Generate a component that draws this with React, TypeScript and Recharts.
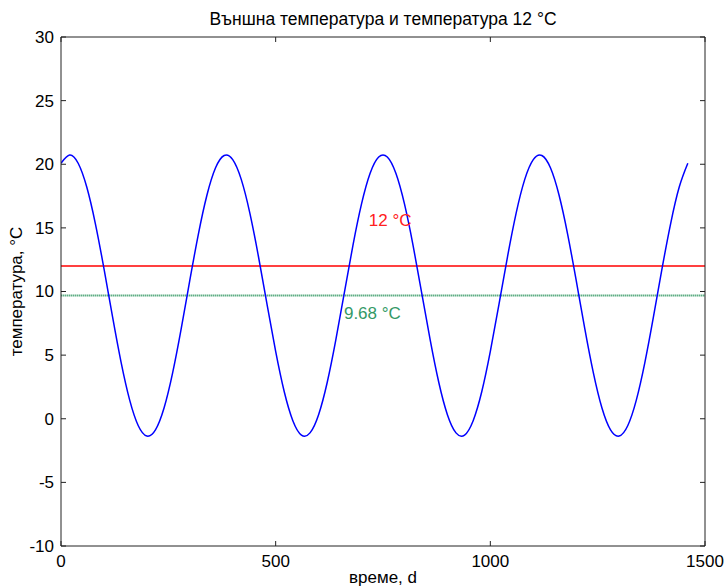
import React from "react";
import {
  LineChart,
  Line,
  XAxis,
  YAxis,
  ReferenceLine,
  ReferenceDot,
  Label,
} from "recharts";

// Day of the simulation, sampled every 20 days
const days = [
  0, 20, 40, 60, 80, 100, 120, 140, 160, 180, 200, 220, 240, 260, 280, 300,
  320, 340, 360, 380, 400, 420, 440, 460, 480, 500, 520, 540, 560, 580, 600,
  620, 640, 660, 680, 700, 720, 740, 760, 780, 800, 820, 840, 860, 880, 900,
  920, 940, 960, 980, 1000, 1020, 1040, 1060, 1080, 1100, 1120, 1140, 1160,
  1180, 1200, 1220, 1240, 1260, 1280, 1300, 1320, 1340, 1360, 1380, 1400,
  1420, 1440, 1460,
];

// Outside temperature, °C
const outsideTemp = [
  20.08, 20.73, 20.08, 18.21, 15.34, 11.81, 8.02, 4.43, 1.46, -0.55, -1.36,
  -0.87, 0.85, 3.61, 7.09, 10.87, 14.51, 17.58, 19.72, 20.69, 20.36, 18.79,
  16.14, 12.73, 8.97, 5.29, 2.12, -0.15, -1.28, -1.11, 0.32, 2.85, 6.18, 9.92,
  13.63, 16.88, 19.29, 20.57, 20.57, 19.29, 16.88, 13.63, 9.92, 6.18, 2.85,
  0.32, -1.11, -1.28, -0.15, 2.12, 5.29, 8.97, 12.73, 16.14, 18.79, 20.36,
  20.69, 19.72, 17.58, 14.51, 10.87, 7.09, 3.61, 0.85, -0.87, -1.36, -0.55,
  1.46, 4.43, 8.02, 11.81, 15.34, 18.21, 20.08,
];

const setPoint = 12;
const meanTemp = 9.68;

const xTicks = [0, 500, 1000, 1500];
const yTicks = [-10, -5, 0, 5, 10, 15, 20, 25, 30];

// where the two text notes sit, in data units
const setPointNote = { t: 717, temp: 15.6 };
const meanNote = { t: 659, temp: 8.3 };

const data = days.map((t, i) => ({ t, temp: outsideTemp[i] }));

const FONT = '"Liberation Sans", Arial, Helvetica, sans-serif';
const FS = 17;
const TICK_LEN = 5;
const AXIS = "#222";

const BottomTick = (props: any) => {
  const { x, y, payload } = props;
  return (
    <g>
      <line x1={x} y1={y} x2={x} y2={y - TICK_LEN} stroke={AXIS} />
      <text x={x} y={y + 9} dy="0.71em" textAnchor="middle" fontSize={FS} fill="#000">
        {payload.value}
      </text>
    </g>
  );
};

const TopTick = (props: any) => {
  const { x, y } = props;
  return <line x1={x} y1={y} x2={x} y2={y + TICK_LEN} stroke={AXIS} />;
};

const LeftTick = (props: any) => {
  const { x, y, payload } = props;
  return (
    <g>
      <line x1={x} y1={y} x2={x + TICK_LEN} y2={y} stroke={AXIS} />
      <text x={x - 7} y={y} dy="0.35em" textAnchor="end" fontSize={FS} fill="#000">
        {payload.value}
      </text>
    </g>
  );
};

const RightTick = (props: any) => {
  const { x, y } = props;
  return <line x1={x} y1={y} x2={x - TICK_LEN} y2={y} stroke={AXIS} />;
};

const noteLabel = (text: string, color: string) => (props: any) => {
  const { viewBox } = props;
  const cx = viewBox.x + viewBox.width / 2;
  const cy = viewBox.y + viewBox.height / 2;
  return (
    <text x={cx} y={cy} dy="0.35em" textAnchor="start" fontSize={FS} fill={color}>
      {text}
    </text>
  );
};

export default function App() {
  return (
    <div style={{ position: "absolute", left: 0, top: 0, width: 727, height: 588, background: "#fff" }}>
      <LineChart
        width={727}
        height={588}
        data={data}
        margin={{ top: 36, right: 21, bottom: 0, left: 0 }}
        style={{ fontFamily: FONT }}
      >
        <XAxis
          dataKey="t"
          type="number"
          domain={[0, 1500]}
          ticks={xTicks}
          allowDataOverflow
          height={42}
          tickSize={0}
          tickMargin={0}
          tickLine={false}
          axisLine={{ stroke: AXIS }}
          tick={<BottomTick />}
        >
          <Label
            content={(p: any) => (
              <text
                x={p.viewBox.x + p.viewBox.width / 2}
                y={p.viewBox.y + 37}
                textAnchor="middle"
                fontSize={FS}
                fill="#000"
              >
                време, d
              </text>
            )}
          />
        </XAxis>
        <XAxis
          xAxisId="top"
          orientation="top"
          dataKey="t"
          type="number"
          domain={[0, 1500]}
          ticks={xTicks}
          allowDataOverflow
          height={1}
          tickSize={0}
          tickMargin={0}
          tickLine={false}
          axisLine={{ stroke: AXIS }}
          tick={<TopTick />}
        >
          <Label
            content={(p: any) => (
              <text
                x={p.viewBox.x + p.viewBox.width / 2}
                y={p.viewBox.y + p.viewBox.height - 12}
                textAnchor="middle"
                fontSize={17.5}
                fill="#000"
              >
                Външна температура и температура 12 °C
              </text>
            )}
          />
        </XAxis>
        <YAxis
          type="number"
          domain={[-10, 30]}
          ticks={yTicks}
          allowDataOverflow
          width={61}
          tickSize={0}
          tickMargin={0}
          tickLine={false}
          axisLine={{ stroke: AXIS }}
          tick={<LeftTick />}
        >
          <Label
            content={(p: any) => {
              const cy = p.viewBox.y + p.viewBox.height / 2;
              return (
                <text
                  x={22}
                  y={cy}
                  transform={`rotate(-90, 22, ${cy})`}
                  textAnchor="middle"
                  fontSize={FS}
                  fill="#000"
                >
                  температура, °C
                </text>
              );
            }}
          />
        </YAxis>
        <YAxis
          yAxisId="right"
          orientation="right"
          type="number"
          domain={[-10, 30]}
          ticks={yTicks}
          allowDataOverflow
          width={1}
          tickSize={0}
          tickMargin={0}
          tickLine={false}
          axisLine={{ stroke: AXIS }}
          tick={<RightTick />}
        />
        <ReferenceLine y={setPoint} stroke="#ff0000" strokeWidth={1.5} />
        <ReferenceLine
          y={meanTemp}
          stroke="#5fae84"
          strokeWidth={2}
          strokeDasharray="1.5 0.5"
        />
        <Line
          type="natural"
          dataKey="temp"
          stroke="#0000ff"
          strokeWidth={1.5}
          dot={false}
          isAnimationActive={false}
        />
        <ReferenceDot
          x={setPointNote.t}
          y={setPointNote.temp}
          r={1}
          fill="none"
          stroke="none"
          label={noteLabel("12 °C", "#ff2020")}
        />
        <ReferenceDot
          x={meanNote.t}
          y={meanNote.temp}
          r={1}
          fill="none"
          stroke="none"
          label={noteLabel("9.68 °C", "#339966")}
        />
      </LineChart>
    </div>
  );
}
